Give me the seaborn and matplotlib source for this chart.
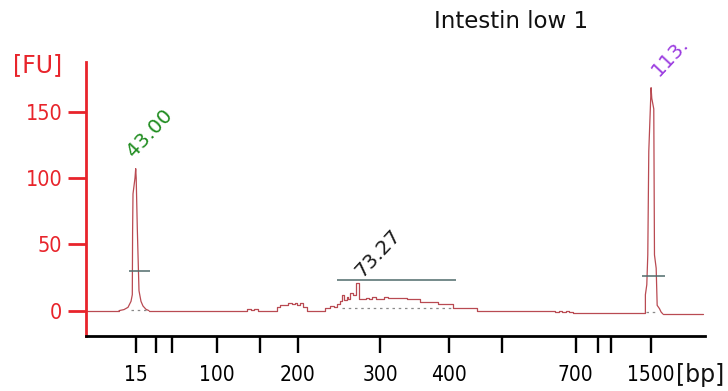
import numpy as np
import pandas as pd
import matplotlib
matplotlib.use("Agg")
import matplotlib.pyplot as plt
import seaborn as sns

# --- data (migration time [s] vs fluorescence [FU]) ---
# flat / smear parts of the trace (drawn as steps), split into segments around the marker peaks
step_time = [40.00, 43.31,
             46.31, 56.10, 56.53, 56.83, 57.23,
             59.10, 59.43, 59.83, 60.23, 60.63, 60.93, 61.18, 61.43, 61.73, 62.11,
             63.94, 64.44, 64.84, 65.14, 65.44, 65.61, 65.84, 66.11, 66.27, 66.44,
             66.74, 67.04, 67.37, 68.04, 68.34, 68.64, 69.04, 69.45, 69.85, 70.25,
             70.65, 71.15, 71.55, 72.12, 73.45, 75.29, 76.79, 79.13,
             86.97, 87.37, 87.68, 88.08, 88.38, 88.78, 96.03,
             97.78, 101.80]
step_fu = [0, 0,
           0, 1.5, 0.5, 1.5, 0,
           3, 4.5, 4, 5.5, 5, 6, 4.5, 5.5, 3, 0,
           2.3, 3.5, 3, 5, 7, 11.7, 8, 10.5, 9, 13,
           12, 21, 8.6, 9.5, 8.6, 10, 9, 8.5, 10, 9.2,
           9.8, 9.2, 9.6, 8.5, 6.2, 4.7, 2, 0,
           -0.8, -0.2, -0.8, -0.2, -0.8, -1.8, -1.8,
           -2.5, -2.5]
step_seg = [0] * 2 + [1] * 50 + [2] * 2

# lower (15 bp) and upper (1500 bp) marker peaks
peak_time = [43.31, 43.81, 44.21, 44.51, 44.64, 44.67, 44.71, 44.91, 44.98, 45.03,
             45.14, 45.31, 45.51, 45.71, 46.01, 46.31,
             96.03, 96.03, 96.17, 96.27, 96.37, 96.60, 96.67, 96.87, 96.94, 97.11,
             97.21, 97.44, 97.60, 97.78]
peak_fu = [0, 0.8, 2.5, 7, 12, 60, 88, 100, 107, 100,
           62, 15, 7, 3.5, 1, 0,
           -1.8, 12, 19.5, 42, 120, 168, 160, 152, 42, 32,
           4, 1.5, -1, -2.5]
peak_seg = [0] * 16 + [1] * 14

ladder_bp = [15, 25, 50, 100, 150, 200, 300, 400, 500, 700, 850, 1000, 1500]
ladder_time = [45.00, 46.97, 48.61, 53.12, 57.43, 61.23, 69.45, 76.36, 81.67,
               89.03, 91.28, 92.63, 96.59]
labeled_bp = [15, 100, 200, 300, 400, 700, 1500]

# peak / region annotations
peak_labels = ["43.00", "73.27", "113."]
peak_label_time = [46.41, 69.25, 98.49]
peak_label_fu = [133.9, 43.5, 191.2]
peak_label_colors = ["#1f8c1f", "#1a1a1a", "#9b3ce0"]
width_bar_fu = [30, 23, 26]
width_bar_start = [44.31, 65.11, 95.73]
width_bar_end = [46.41, 77.06, 97.95]
base_fu = [0.8, 2.0, -1.2]
base_start = [44.50, 65.60, 96.10]
base_end = [46.00, 76.80, 97.30]

RED = "#e8242b"
TRACE = "#b94a52"

sns.set_style("ticks")
plt.rcParams["font.family"] = ["DejaVu Sans"]

fig = plt.figure(figsize=(7.28, 3.91), dpi=100)
ax = fig.add_axes([0.1181, 0.1407, 0.8503, 0.7015])

steps_df = pd.DataFrame({"time": step_time, "fu": step_fu, "seg": step_seg})
peaks_df = pd.DataFrame({"time": peak_time, "fu": peak_fu, "seg": peak_seg})
sns.lineplot(data=steps_df, x="time", y="fu", units="seg", sort=False, estimator=None,
             color=TRACE, linewidth=0.9, drawstyle="steps-post", ax=ax)
sns.lineplot(data=peaks_df, x="time", y="fu", units="seg", sort=False, estimator=None,
             color=TRACE, linewidth=0.9, ax=ax)

ax.hlines(width_bar_fu, width_bar_start, width_bar_end, color="#4f6b6b", linewidth=1.1)
ax.hlines(base_fu, base_start, base_end, color="#8a8a8a", linewidth=0.9,
          linestyles=(0, (2, 3)))

for lab, t, f, c in zip(peak_labels, peak_label_time, peak_label_fu, peak_label_colors):
    ax.text(t, f, lab, color=c, fontsize=14.5, rotation=47, ha="center", va="center",
            rotation_mode="anchor", clip_on=False)

ax.set_xlim(40, 102)
ax.set_ylim(-19.1, 187.6)
ax.set_xticks(ladder_time)
ax.set_xticklabels([str(b) if b in labeled_bp else "" for b in ladder_bp])
ax.set_yticks([0, 50, 100, 150])
ax.set_xlabel("")
ax.set_ylabel("")

sns.despine(ax=ax)
ax.spines["left"].set_color(RED)
ax.spines["left"].set_linewidth(2.0)
ax.spines["bottom"].set_color("black")
ax.spines["bottom"].set_linewidth(2.0)
ax.tick_params(axis="x", length=12, width=1.7, pad=9, labelsize=15, colors="black")
ax.tick_params(axis="y", length=13, width=2.0, pad=4, labelsize=15.5, colors=RED)
for lbl in ax.get_xticklabels() + ax.get_yticklabels():
    lbl.set_fontstretch("condensed")

fig.text(0.702, 0.944, "Intestin low 1", fontsize=16.5, ha="center", va="center", color="#111111")
fig.text(0.0515, 0.834, "[FU]", fontsize=17, ha="center", va="center", color=RED)
fig.text(0.928, 0.040, "[bp]", fontsize=17, ha="left", va="center", color="#111111")

fig.savefig("out.png", dpi=100)
